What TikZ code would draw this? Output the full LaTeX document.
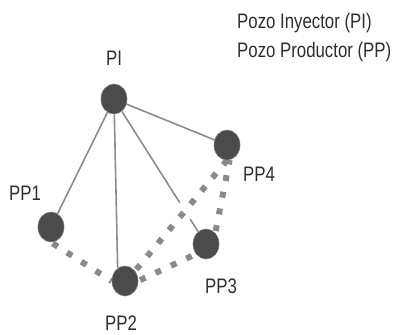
\documentclass[tikz,border=0pt]{standalone}
\usepackage{fontspec}
\setmainfont{Liberation Sans}[FakeStretch=0.8]
\usepackage{tikz}
\usetikzlibrary{positioning, shapes.geometric}
\definecolor{wellfill}{HTML}{4B4B4B}
\definecolor{wellrim}{HTML}{7A7A7A}
\definecolor{linkgray}{HTML}{8C8C8C}
\definecolor{dotgray}{HTML}{8A8A8A}
\definecolor{textgray}{HTML}{2E2E2E}

\tikzset{
  well/.style={draw=wellrim, line width=0.6pt, fill=wellfill, ellipse, minimum width=26pt, minimum height=30pt, inner sep=0pt},
  link/.style={draw=linkgray, line width=1.6pt},
  dotline/.style={draw=dotgray, line width=6pt, dash pattern=on 6pt off 11pt, dash phase=-2pt},
  gapped/.style={preaction={draw=white, solid, line width=18pt}},
  lbl/.style={inner sep=0pt, text=textgray, font=\fontsize{21}{25}\selectfont}
}

\begin{document}
\begin{tikzpicture}[x=1pt, y=-1pt]
\useasboundingbox (0,0) rectangle (395,334);

% Wells (positions only, drawn at the end)
\node[well, draw=none, fill=none] (PI) at (114,99) {};
\node[well, draw=none, fill=none] (PP1) at (51,227) {};
\node[well, draw=none, fill=none] (PP2) at (125,281) {};
\node[well, draw=none, fill=none] (PP3) at (206,244) {};
\node[well, draw=none, fill=none] (PP4) at (227,145) {};

% Injector to producers
\draw[link] (PI) -- (PP1);
\draw[link] (PI) -- (PP2.120);
\draw[link] (PI) -- (PP3);
\draw[link] (PI) -- (PP4);

% Producer to producer
\draw[dotline, gapped] (PP2.45) -- (PP4.south);
\draw[dotline] (PP1.south) -- (PP2.west);
\draw[dotline] (PP2.east) -- (PP3.225);
\draw[dotline] (PP3.50) -- (PP4.-80);

% Wells on top
\foreach \w in {PI, PP1, PP2, PP3, PP4}
  \node[well] at (\w) {};

% Labels
\node[lbl, anchor=base] (lblPI) at (114,66) {PI};
\node[lbl, anchor=base] (lblPP1) at (25,200) {PP1};
\node[lbl, anchor=base] (lblPP2) at (121,330) {PP2};
\node[lbl, anchor=base] (lblPP3) at (221,293) {PP3};
\node[lbl, anchor=base] (lblPP4) at (259,181) {PP4};

% Legend
\node[lbl, anchor=base west] (legPI) at (237,29) {Pozo Inyector (PI)};
\node[lbl, anchor=base west] (legPP) at (237,58) {Pozo Productor (PP)};
\end{tikzpicture}
\end{document}
